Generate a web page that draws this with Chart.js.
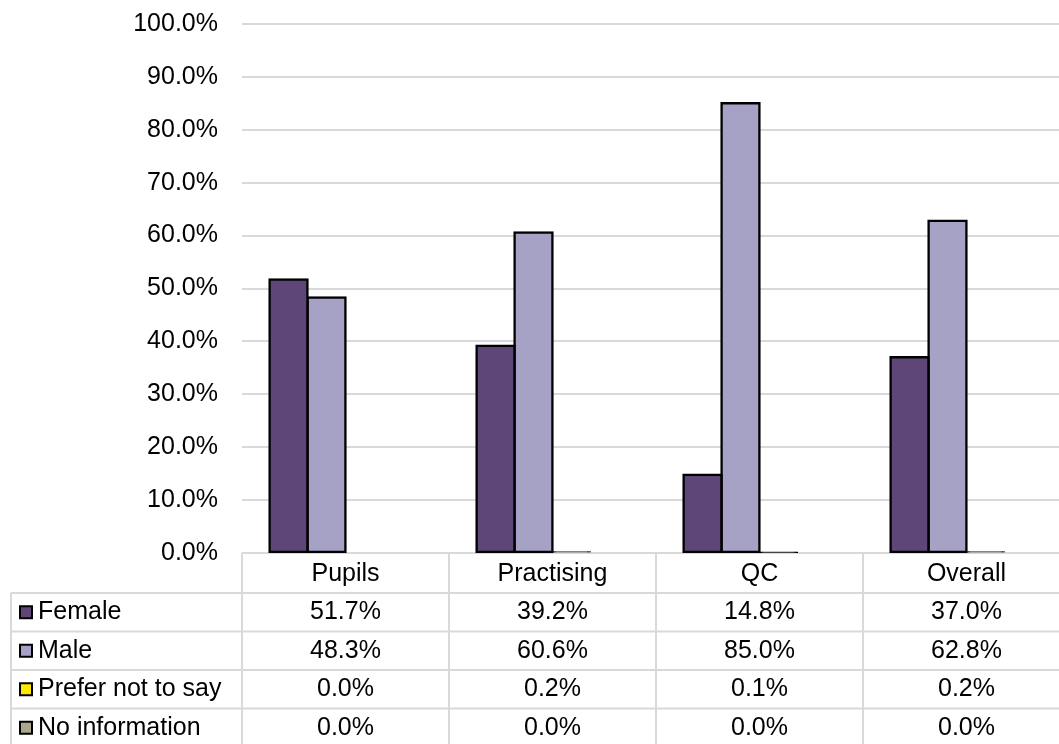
<!DOCTYPE html>
<html>
<head>
<meta charset="utf-8">
<title>Gender by status</title>
<script src="https://cdn.jsdelivr.net/npm/chart.js@4/dist/chart.umd.min.js"></script>
<style>
  html, body { margin: 0; padding: 0; overflow: hidden; background: #fff; }
  #wrap { position: relative; width: 1071px; height: 744px; }
</style>
</head>
<body>
<div id="wrap"><canvas id="chart"></canvas></div>
<script>
// Categories and series (percent of each group)
const categories = ['Pupils', 'Practising', 'QC', 'Overall'];
const female     = [51.7, 39.2, 14.8, 37.0];
const male       = [48.3, 60.6, 85.0, 62.8];
const preferNot  = [0.0, 0.2, 0.1, 0.2];
const noInfo     = [0.0, 0.0, 0.0, 0.0];
const yTickValues = [0, 10, 20, 30, 40, 50, 60, 70, 80, 90, 100];

const FONT = "'Liberation Sans', Arial, sans-serif";
const FONT_SIZE = 25;
const GRID = '#d9d9d9';
const BORDER_W = 2.5;

// Data table under the plot: header row of categories, then one row per series
const seriesTable = {
  id: 'seriesTable',
  afterDraw(chart) {
    const { ctx, chartArea: area, scales: { x } } = chart;
    const rows = chart.data.datasets;
    const n = chart.data.labels.length;
    const colW = (area.right - area.left) / n;
    const headTop = area.bottom;
    const headH = 40;
    const rowH = 38.5;
    const left = 11;
    const bodyTop = headTop + headH;
    const bottom = bodyTop + rowH * rows.length;

    ctx.save();
    ctx.strokeStyle = GRID;
    ctx.lineWidth = 2;
    ctx.beginPath();
    for (let r = 0; r <= rows.length; r++) {
      const y = bodyTop + r * rowH;
      ctx.moveTo(left, y);
      ctx.lineTo(area.right, y);
    }
    ctx.moveTo(left, bodyTop);
    ctx.lineTo(left, bottom);
    for (let i = 0; i <= n; i++) {
      const xx = area.left + i * colW;
      ctx.moveTo(xx, headTop);
      ctx.lineTo(xx, bottom);
    }
    ctx.stroke();

    ctx.font = FONT_SIZE + 'px ' + FONT;
    ctx.fillStyle = '#000';
    ctx.textBaseline = 'middle';
    ctx.textAlign = 'center';
    chart.data.labels.forEach((c, i) => {
      ctx.fillText(c, x.getPixelForValue(i), headTop + headH / 2 + 1);
    });

    rows.forEach((ds, r) => {
      const cy = bodyTop + r * rowH + rowH / 2;
      // legend key
      ctx.fillStyle = ds.keyColor;
      ctx.fillRect(20, cy - 6, 12, 12);
      ctx.strokeStyle = '#000';
      ctx.lineWidth = 2;
      ctx.strokeRect(20, cy - 6, 12, 12);
      ctx.fillStyle = '#000';
      ctx.textAlign = 'left';
      ctx.fillText(ds.label, 38, cy);
      ctx.textAlign = 'center';
      ds.data.forEach((v, i) => {
        ctx.fillText(v.toFixed(1) + '%', x.getPixelForValue(i), cy);
      });
    });
    ctx.restore();
  }
};

// Bars under 1% are drawn as a thin outline stroke along the baseline
function series(label, data, color) {
  return {
    label,
    data,
    keyColor: color,
    backgroundColor: (c) => (c.raw > 0 && c.raw < 1 ? '#222' : color),
    borderColor: '#000',
    borderWidth: BORDER_W,
    borderSkipped: false,
    inflateAmount: (c) => (c.raw >= 1 ? BORDER_W / 2 : (c.raw > 0 ? 0.6 : 0)),
    barPercentage: 1,
    categoryPercentage: 0.734
  };
}

new Chart(document.getElementById('chart'), {
  type: 'bar',
  data: {
    labels: categories,
    datasets: [
      series('Female', female, '#5E4679'),
      series('Male', male, '#A6A2C6'),
      series('Prefer not to say', preferNot, '#FFE800'),
      series('No information', noInfo, '#ABA68E')
    ]
  },
  options: {
    responsive: true,
    maintainAspectRatio: false,
    animation: false,
    layout: { padding: { top: 24, right: 1, bottom: 191, left: 0 } },
    plugins: { legend: { display: false }, tooltip: { enabled: false } },
    scales: {
      x: { display: false },
      y: {
        min: 0,
        max: 100,
        afterBuildTicks(scale) { scale.ticks = yTickValues.map(v => ({ value: v })); },
        afterFit(scale) {
          scale.width = 242;
          scale.paddingTop = 0;
          scale.paddingBottom = 0;
        },
        ticks: {
          padding: 24,
          color: '#000',
          font: { family: FONT, size: FONT_SIZE },
          callback: (v) => Number(v).toFixed(1) + '%'
        },
        grid: { color: GRID, lineWidth: 2, drawTicks: false },
        border: { display: false }
      }
    }
  },
  plugins: [seriesTable]
});
</script>
</body>
</html>
